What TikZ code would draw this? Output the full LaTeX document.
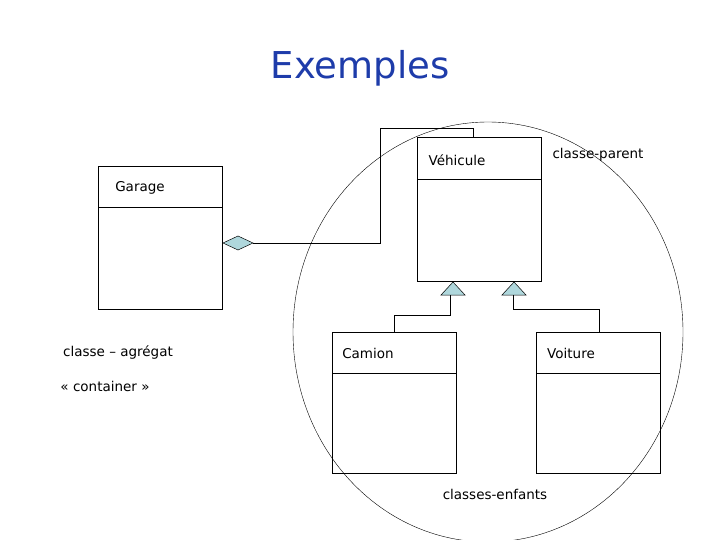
\documentclass[tikz,border=0pt]{standalone}
\usepackage{fontspec}
\setmainfont{DejaVu Sans}
\begin{document}
\begin{tikzpicture}[x=1pt,y=-1pt,
  cls/.style={draw,line width=0.6pt},
  txt/.style={font=\fontsize{13.5}{16}\selectfont,inner sep=0pt},
  tri/.style={draw,fill=tfill,line width=0.5pt},
  conn/.style={line width=0.6pt}]
\definecolor{ttl}{RGB}{30,60,170}
\definecolor{tfill}{RGB}{175,215,220}
\useasboundingbox (0,0) rectangle (720,540);
\node[font=\fontsize{37}{42}\selectfont,text=ttl] (title) at (360,68) {Exemples};
\draw[line width=0.4pt] (488,332) ellipse [x radius=195, y radius=210];
% boxes
\draw[cls] (417,137) rectangle (541,281); \draw[cls] (417,179) -- (541,179);
\coordinate (veh) at (473,137);
\node[txt] (vehT) at (457,160) {Véhicule};
\node[txt] (cp) at (598,155) {classe-parent};
\draw[cls] (98,166) rectangle (222,309); \draw[cls] (98,207) -- (222,207);
\node[txt] (garT) at (140,188) {Garage};
\draw[cls] (332,332) rectangle (456,473); \draw[cls] (332,373) -- (456,373);
\node[txt] (camT) at (368,353) {Camion};
\draw[cls] (536,332) rectangle (660,473); \draw[cls] (536,373) -- (660,373);
\node[txt] (voiT) at (571,353) {Voiture};
\node[txt] (ag) at (118,353) {classe -- agrégat};
\node[txt] (cont) at (105,386) {« container »};
\node[txt] (ce) at (495,494) {classes-enfants};
% diamond aggregation
\draw[tri] (223,243) -- (238,236) -- (253,243) -- (238,250) -- cycle;
\coordinate (dia) at (253,243);
\draw[conn] (dia) -- (380,243) -- (380,128) -- (473,128) -- (veh);
% inheritance
\draw[tri] (453,282) -- (465,295) -- (441,295) -- cycle;
\draw[tri] (514,282) -- (526,295) -- (502,295) -- cycle;
\coordinate (t1) at (450,295); \coordinate (t2) at (513,295);
\draw[conn] (t1) -- (450,315) -- (394,315) -- (394,332);
\draw[conn] (t2) -- (513,309) -- (599,309) -- (599,332);
\end{tikzpicture}
\end{document}
